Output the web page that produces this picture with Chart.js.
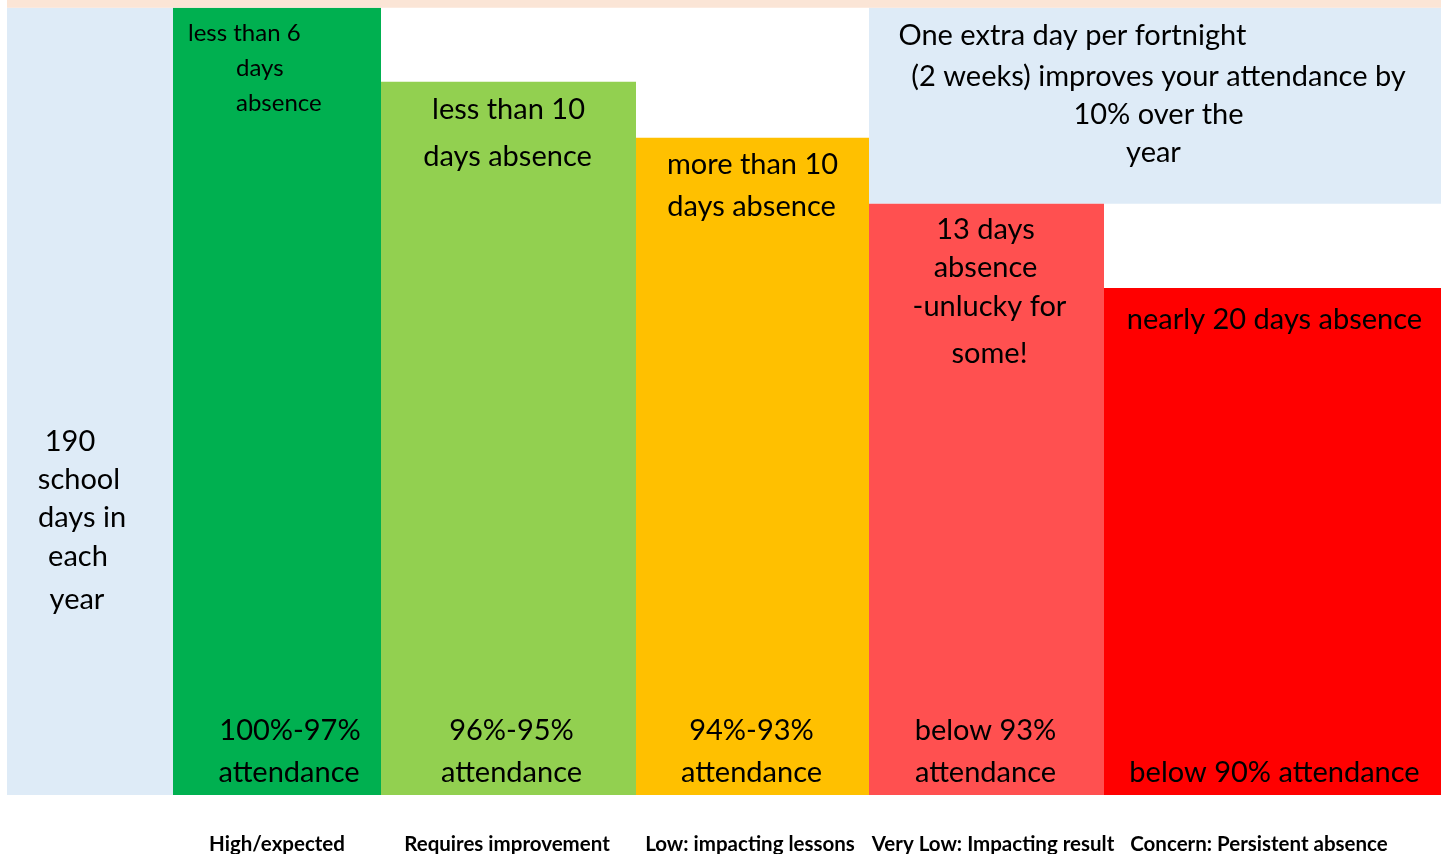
<!DOCTYPE html>
<html>
<head>
<meta charset="utf-8">
<script src="https://cdn.jsdelivr.net/npm/chart.js@4.4.1/dist/chart.umd.min.js"></script>
<style>
  body { margin: 0; background: #fff; }
  #wrap { width: 1446px; height: 854px; }
</style>
</head>
<body>
<div id="wrap"><canvas id="chart"></canvas></div>
<script>
// attendance bands, left to right
const bands = ['', 'High/expected', 'Requires improvement', 'Low: impacting lessons', 'Very Low: Impacting result', 'Concern: Persistent absence'];
const bandWidths = [166, 208, 255, 233, 235, 337];
const barHeights = [100, 100, 90.6, 83.5, 75.1, 64.4];
const noteBox = [75.1, 100];   // light blue note over the last two bands
const yMax = 101;

const bandColors = ['#DEEBF7', '#00B050', '#92D050', '#FFC000', '#FF5050', '#FF0000'];
// label nudges off the band centres, so they don't run together
const labelShift = [0, 0, -1.5, -2.5, 6.5, -13.5];

// band edges in x units
const edges = [0];
bandWidths.forEach(w => edges.push(edges[edges.length - 1] + w));
const centers = bandWidths.map((w, i) => edges[i] + w / 2);

const datasets = [];
// top strip
datasets.push({
  data: [{x: edges[0], y: yMax}, {x: edges[edges.length - 1], y: yMax}],
  fill: {value: 100},
  backgroundColor: '#FBE5D6'
});
bands.forEach((b, i) => {
  datasets.push({
    label: b,
    data: [{x: edges[i], y: barHeights[i]}, {x: edges[i + 1], y: barHeights[i]}],
    fill: 'origin',
    backgroundColor: bandColors[i]
  });
});
datasets.push({
  data: [{x: edges[4], y: noteBox[1]}, {x: edges[6], y: noteBox[1]}],
  fill: {value: noteBox[0]},
  backgroundColor: '#DEEBF7'
});
datasets.forEach(d => { d.borderWidth = 0; d.pointRadius = 0; });

// texts: [band, dx, y from top, text, size, align]
const notes = [
  [0, -20, 442, '190', 29],
  [0, -11, 480, 'school', 29],
  [0, -8, 518, 'days in', 29],
  [0, -12, 557, 'each', 29],
  [0, -13, 600, 'year', 29],
  [1, -89, 33, 'less than 6', 24, 'left'],
  [1, -41, 68, 'days', 24, 'left'],
  [1, -41, 103, 'absence', 24, 'left'],
  [1, 13, 731, '100%-97%', 29],
  [1, 12, 773, 'attendance', 29],
  [2, 0, 110, 'less than 10', 29],
  [2, -1, 157, 'days absence', 29],
  [2, 3, 731, '96%-95%', 29],
  [2, 3, 773, 'attendance', 29],
  [3, 0, 165, 'more than 10', 29],
  [3, -1, 207, 'days absence', 29],
  [3, -1, 731, '94%-93%', 29],
  [3, -1, 773, 'attendance', 29],
  [4, -88, 36, 'One extra day per fortnight', 29, 'left'],
  [4, 172, 77, '(2 weeks) improves your attendance by', 29],
  [4, 172, 115, '10% over the', 29],
  [4, 167, 153, 'year', 29],
  [4, -1, 230, '13 days', 29],
  [4, -1, 268, 'absence', 29],
  [4, 3, 307, '-unlucky for', 29],
  [4, 3, 354, 'some!', 29],
  [4, -1, 731, 'below 93%', 29],
  [4, -1, 773, 'attendance', 29],
  [5, 2, 320, 'nearly 20 days absence', 29],
  [5, 2, 773, 'below 90% attendance', 29]
];

const notePlugin = {
  id: 'notes',
  afterDatasetsDraw(chart) {
    const ctx = chart.ctx;
    const xs = chart.scales.x;
    ctx.save();
    ctx.fillStyle = '#000';
    ctx.textBaseline = 'middle';
    notes.forEach(n => {
      ctx.font = n[4] + 'px Lato';
      ctx.textAlign = n[5] || 'center';
      ctx.fillText(n[3], xs.getPixelForValue(centers[n[0]] + n[1]), chart.chartArea.top + n[2]);
    });
    ctx.restore();
  }
};

new Chart(document.getElementById('chart'), {
  type: 'line',
  data: { datasets: datasets },
  options: {
    responsive: true,
    maintainAspectRatio: false,
    animation: false,
    layout: { padding: { left: 7, right: 5, top: 0, bottom: 0 } },
    plugins: { legend: { display: false }, tooltip: { enabled: false } },
    scales: {
      x: {
        type: 'linear',
        min: edges[0],
        max: edges[edges.length - 1],
        grid: { display: false },
        border: { display: false },
        afterBuildTicks: s => { s.ticks = centers.map((v, i) => ({ value: v + labelShift[i] })); },
        afterFit: s => { s.height = 59; },
        ticks: {
          autoSkip: false,
          maxRotation: 0,
          padding: 29.5,
          color: '#000',
          font: { family: 'Lato', size: 20.5, weight: 'bold' },
          callback: (v, i) => bands[i]
        }
      },
      y: { display: false, min: 0, max: yMax }
    }
  },
  plugins: [notePlugin]
});
</script>
</body>
</html>
